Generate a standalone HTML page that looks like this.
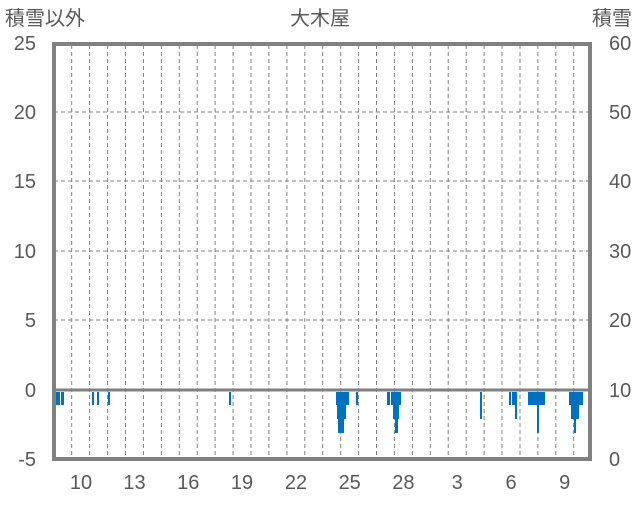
<!DOCTYPE html>
<html><head><meta charset="utf-8"><style>
body{margin:0;background:#fff;}
svg text{font-family:"Liberation Sans","Noto Sans CJK JP",sans-serif;fill:#595959;}
</style></head><body>
<svg width="636" height="501" viewBox="0 0 636 501">
<g stroke="#808080" stroke-width="1" stroke-dasharray="4,3">
<line x1="54" y1="112" x2="590" y2="112"/>
<line x1="54" y1="181" x2="590" y2="181"/>
<line x1="54" y1="251" x2="590" y2="251"/>
<line x1="54" y1="320" x2="590" y2="320"/>
<g id="v"></g>
</g>
<g stroke="#808080" stroke-width="1" stroke-dasharray="4,3">
<line x1="71.7" y1="45" x2="71.7" y2="458"/><line x1="89.6" y1="45" x2="89.6" y2="458"/><line x1="107.6" y1="45" x2="107.6" y2="458"/><line x1="125.5" y1="45" x2="125.5" y2="458"/><line x1="143.4" y1="45" x2="143.4" y2="458"/><line x1="161.4" y1="45" x2="161.4" y2="458"/><line x1="179.3" y1="45" x2="179.3" y2="458"/><line x1="197.2" y1="45" x2="197.2" y2="458"/><line x1="215.1" y1="45" x2="215.1" y2="458"/><line x1="233.1" y1="45" x2="233.1" y2="458"/><line x1="251.0" y1="45" x2="251.0" y2="458"/><line x1="268.9" y1="45" x2="268.9" y2="458"/><line x1="286.9" y1="45" x2="286.9" y2="458"/><line x1="304.8" y1="45" x2="304.8" y2="458"/><line x1="322.7" y1="45" x2="322.7" y2="458"/><line x1="340.7" y1="45" x2="340.7" y2="458"/><line x1="358.6" y1="45" x2="358.6" y2="458"/><line x1="376.5" y1="45" x2="376.5" y2="458"/><line x1="394.4" y1="45" x2="394.4" y2="458"/><line x1="412.4" y1="45" x2="412.4" y2="458"/><line x1="430.3" y1="45" x2="430.3" y2="458"/><line x1="448.2" y1="45" x2="448.2" y2="458"/><line x1="466.2" y1="45" x2="466.2" y2="458"/><line x1="484.1" y1="45" x2="484.1" y2="458"/><line x1="502.0" y1="45" x2="502.0" y2="458"/><line x1="520.0" y1="45" x2="520.0" y2="458"/><line x1="537.9" y1="45" x2="537.9" y2="458"/><line x1="555.8" y1="45" x2="555.8" y2="458"/><line x1="573.7" y1="45" x2="573.7" y2="458"/>
</g>
<g fill="#0070C0">
<rect x="54" y="392" width="6" height="13"/><rect x="61" y="392" width="3" height="13"/>
<rect x="92" y="392" width="2" height="13"/><rect x="97" y="392" width="2" height="13"/><rect x="108" y="392" width="2" height="13"/><rect x="229" y="392" width="2" height="13"/>
<rect x="336" y="392" width="13" height="13"/><rect x="337" y="392" width="9" height="27"/><rect x="338" y="392" width="6" height="41"/>
<rect x="356" y="392" width="2" height="13"/>
<rect x="387" y="392" width="3" height="13"/><rect x="391" y="392" width="10" height="13"/><rect x="393" y="392" width="6" height="27"/><rect x="395" y="392" width="3" height="41"/>
<rect x="480" y="392" width="2" height="27"/>
<rect x="509" y="392" width="2" height="13"/><rect x="512" y="392" width="5" height="13"/><rect x="515" y="392" width="2" height="27"/>
<rect x="528" y="392" width="17" height="13"/><rect x="537" y="392" width="2" height="41"/>
<rect x="569" y="392" width="14" height="13"/><rect x="571" y="392" width="8" height="27"/><rect x="574" y="392" width="2" height="41"/>
</g>
<line x1="54" y1="390" x2="590" y2="390" stroke="#808080" stroke-width="3"/>
<rect x="54" y="44" width="536" height="415" fill="none" stroke="#808080" stroke-width="4"/>
<g font-size="20" text-anchor="end">
<text x="36" y="50">25</text><text x="36" y="119">20</text><text x="36" y="188">15</text><text x="36" y="258">10</text><text x="36" y="327">5</text><text x="36" y="397">0</text><text x="36" y="466">-5</text>
</g>
<g font-size="20" text-anchor="start">
<text x="609" y="50">60</text><text x="609" y="119">50</text><text x="609" y="188">40</text><text x="609" y="258">30</text><text x="609" y="327">20</text><text x="609" y="397">10</text><text x="609" y="466">0</text>
</g>
<g font-size="20" text-anchor="middle">
<text x="81" y="489">10</text><text x="134.5" y="489">13</text><text x="188.3" y="489">16</text><text x="242" y="489">19</text><text x="296" y="489">22</text><text x="349.7" y="489">25</text><text x="403.4" y="489">28</text><text x="457.2" y="489">3</text><text x="511" y="489">6</text><text x="564.7" y="489">9</text>
</g>
<text x="5" y="25" font-size="20">積雪以外</text>
<text x="320" y="25" font-size="20" text-anchor="middle">大木屋</text>
<text x="632" y="25" font-size="20" text-anchor="end">積雪</text>
</svg>
</body></html>
